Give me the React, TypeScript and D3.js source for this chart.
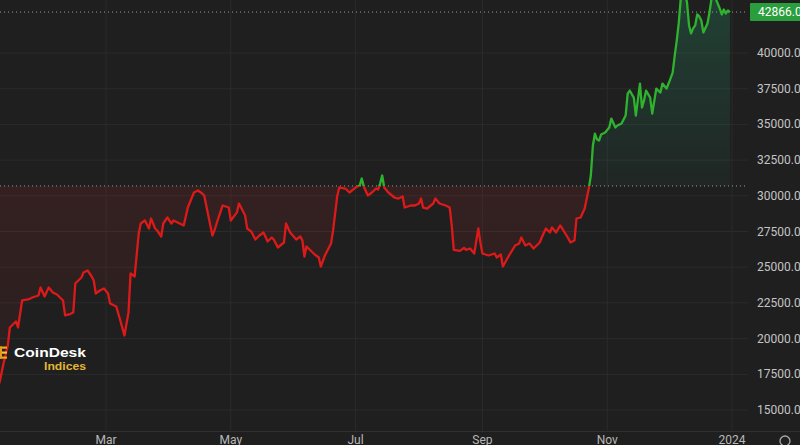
import React from "react";
import * as d3 from "d3";

const dates = [
  "2023-01-06","2023-01-08","2023-01-10","2023-01-12","2023-01-13","2023-01-16","2023-01-17","2023-01-19","2023-01-22","2023-01-24","2023-01-27","2023-01-28","2023-01-30",
  "2023-02-01","2023-02-03","2023-02-05","2023-02-08","2023-02-09","2023-02-11","2023-02-13","2023-02-14","2023-02-17","2023-02-18","2023-02-20","2023-02-22","2023-02-23","2023-02-24","2023-02-26","2023-02-28",
  "2023-03-02","2023-03-03","2023-03-06","2023-03-08","2023-03-10","2023-03-12","2023-03-13","2023-03-15","2023-03-17","2023-03-18","2023-03-20","2023-03-22","2023-03-23","2023-03-25","2023-03-26","2023-03-28","2023-03-29","2023-03-31",
  "2023-04-02","2023-04-03","2023-04-06","2023-04-08","2023-04-10","2023-04-13","2023-04-15","2023-04-17","2023-04-18","2023-04-19","2023-04-21","2023-04-22","2023-04-23","2023-04-25","2023-04-27","2023-04-30",
  "2023-05-01","2023-05-04","2023-05-05","2023-05-08","2023-05-09","2023-05-11","2023-05-13","2023-05-15","2023-05-17","2023-05-19","2023-05-21","2023-05-22","2023-05-24","2023-05-27","2023-05-28","2023-05-30",
  "2023-06-02","2023-06-04","2023-06-05","2023-06-06","2023-06-07","2023-06-09","2023-06-11","2023-06-13","2023-06-14","2023-06-16","2023-06-18","2023-06-19","2023-06-20","2023-06-22","2023-06-23","2023-06-26","2023-06-28",
  "2023-07-01","2023-07-03","2023-07-04","2023-07-05","2023-07-07","2023-07-09","2023-07-11","2023-07-12","2023-07-13","2023-07-14","2023-07-15","2023-07-17","2023-07-20","2023-07-22","2023-07-24","2023-07-25","2023-07-28","2023-07-30",
  "2023-08-01","2023-08-02","2023-08-03","2023-08-05","2023-08-08","2023-08-09","2023-08-11","2023-08-14","2023-08-16","2023-08-17","2023-08-18","2023-08-21","2023-08-23","2023-08-24","2023-08-26","2023-08-28","2023-08-30","2023-08-31",
  "2023-09-01","2023-09-04","2023-09-07","2023-09-08","2023-09-10","2023-09-11","2023-09-14","2023-09-17","2023-09-19","2023-09-20","2023-09-22","2023-09-24","2023-09-26","2023-09-29","2023-09-30",
  "2023-10-02","2023-10-04","2023-10-05","2023-10-07","2023-10-09","2023-10-10","2023-10-13","2023-10-14","2023-10-16","2023-10-17","2023-10-19","2023-10-21","2023-10-22","2023-10-23","2023-10-24","2023-10-25","2023-10-26","2023-10-27","2023-10-28","2023-10-29","2023-10-31",
  "2023-11-02","2023-11-03","2023-11-05","2023-11-06","2023-11-08","2023-11-10","2023-11-11","2023-11-12","2023-11-14","2023-11-15","2023-11-17","2023-11-18","2023-11-19","2023-11-20","2023-11-22","2023-11-23","2023-11-25","2023-11-27","2023-11-28","2023-11-30",
  "2023-12-01","2023-12-03","2023-12-04","2023-12-05","2023-12-06","2023-12-07","2023-12-08","2023-12-09","2023-12-10","2023-12-11","2023-12-12","2023-12-13","2023-12-14","2023-12-15","2023-12-16","2023-12-17","2023-12-18","2023-12-20","2023-12-21","2023-12-22","2023-12-23","2023-12-24","2023-12-25","2023-12-26","2023-12-27","2023-12-28","2023-12-29","2023-12-30","2023-12-31"
];

const prices = [
  16400,16950,18330,19520,20780,21200,20780,22670,22740,22880,23020,23580,22950,
  23580,23230,23090,22670,21620,21690,21830,23860,24280,24630,24770,24350,24070,23160,23370,23510,
  23160,22460,22250,21270,20220,21830,24560,24350,27360,28060,28270,27710,28410,27710,27570,27150,28060,28480,
  28060,28270,28060,27920,29180,30230,30370,30160,30020,29320,27920,27220,27570,28480,29320,29180,
  28270,28840,29460,28620,27710,27500,26940,27220,27430,26800,27080,26940,26380,26730,28060,27430,
  26940,27150,26870,25750,26450,26170,25890,25680,25050,25820,26380,26660,27570,29950,30580,30510,30230,
  30580,30720,31210,30650,30020,30230,30510,30440,30860,31420,30580,30230,29880,29810,29950,29180,29320,29320,
  29460,29810,29180,29110,29460,29810,29460,29320,29180,27920,26210,26140,26350,26210,26310,25960,27710,26730,
  25960,25820,25960,25680,25890,25050,25820,26520,26660,27080,26520,26660,26310,26730,27080,
  27710,27430,27780,27430,27920,27710,27010,26730,26870,28410,28480,29110,29810,30510,31420,33520,34360,33950,33870,34290,34430,
  34780,35410,34780,34920,35060,35620,37160,37370,36880,35620,37860,36180,36680,37370,36880,35760,37510,37230,37860,37510,
  37860,38630,39820,40880,42140,43890,44380,44240,43540,41930,41370,41720,41930,42700,42560,42280,41440,42070,42840,43820,44030,43820,43470,43120,42700,43050,42770,42980,42866
];

const yTicks = [15000, 17500, 20000, 22500, 25000, 27500, 30000, 32500, 35000, 37500, 40000];
const xTickDates = ["2023-03-01", "2023-05-01", "2023-07-01", "2023-09-01", "2023-11-01", "2024-01-01"];
const xTickLabels = ["Mar", "May", "Jul", "Sep", "Nov", "2024"];
const baseValue = 30690;
const lastPrice = 42866.0;

type Pt = { date: Date; value: number };

export default function App() {
  const W = 800;
  const H = 445;
  const plotRight = 748;
  const plotBottom = 431;
  const parse = d3.timeParse("%Y-%m-%d");
  const data: Pt[] = dates.map((d, i) => ({ date: parse(d) as Date, value: prices[i] }));

  const x = d3
    .scaleTime()
    .domain([parse("2023-03-01") as Date, parse("2024-01-01") as Date])
    .range([106, 732]);
  const y = d3.scaleLinear().domain([15000, 40000]).range([410, 53]);
  const by = y(baseValue);
  const ly = y(lastPrice);

  const line = d3
    .line<Pt>()
    .x((d) => x(d.date))
    .y((d) => y(d.value));
  const area = d3
    .area<Pt>()
    .x((d) => x(d.date))
    .y0(by)
    .y1((d) => y(d.value));

  const linePath = line(data) || "";
  const areaPath = area(data) || "";
  const font = "Roboto, 'Open Sans', 'DejaVu Sans', sans-serif";

  return (
    <svg
      width={W}
      height={H}
      style={{ position: "absolute", left: 0, top: 0, display: "block" }}
    >
      <defs>
        <clipPath id="plotClip">
          <rect x={0} y={0} width={plotRight} height={plotBottom} />
        </clipPath>
        <clipPath id="aboveClip">
          <rect x={0} y={0} width={plotRight} height={by} />
        </clipPath>
        <clipPath id="belowClip">
          <rect x={0} y={by} width={plotRight} height={plotBottom - by} />
        </clipPath>
        <linearGradient id="greenGrad" gradientUnits="userSpaceOnUse" x1={0} y1={0} x2={0} y2={by}>
          <stop offset="0" stopColor="rgb(40,170,120)" stopOpacity={0.24} />
          <stop offset="1" stopColor="rgb(40,170,120)" stopOpacity={0.05} />
        </linearGradient>
        <linearGradient id="redGrad" gradientUnits="userSpaceOnUse" x1={0} y1={by} x2={0} y2={plotBottom}>
          <stop offset="0" stopColor="rgb(200,40,40)" stopOpacity={0.13} />
          <stop offset="1" stopColor="rgb(200,40,40)" stopOpacity={0.04} />
        </linearGradient>
      </defs>

      <rect x={0} y={0} width={W} height={H} fill="#1f1f1f" />

      {/* grid */}
      <g>
        {yTicks.map((t) => (
          <line key={"gy" + t} x1={0} x2={plotRight} y1={y(t)} y2={y(t)} stroke="#2b2b2b" strokeWidth={1} />
        ))}
        {xTickDates.map((t) => {
          const xx = x(parse(t) as Date);
          return <line key={"gx" + t} x1={xx} x2={xx} y1={0} y2={plotBottom} stroke="#2b2b2b" strokeWidth={1} />;
        })}
        <line x1={0} x2={W} y1={plotBottom + 0.5} y2={plotBottom + 0.5} stroke="#303030" strokeWidth={1} />
      </g>

      {/* areas */}
      <g clipPath="url(#plotClip)">
        <path d={areaPath} fill="url(#greenGrad)" clipPath="url(#aboveClip)" />
        <path d={areaPath} fill="url(#redGrad)" clipPath="url(#belowClip)" />
      </g>

      {/* dotted lines */}
      <line x1={0} x2={plotRight} y1={by} y2={by} stroke="#9a9a9a" strokeWidth={1} strokeDasharray="1 3" />
      <line x1={0} x2={plotRight} y1={ly} y2={ly} stroke="#9a9a9a" strokeWidth={1} strokeDasharray="1 3" />

      {/* lines */}
      <g clipPath="url(#plotClip)">
        <path d={linePath} fill="none" stroke="#2fb32f" strokeWidth={2.3} strokeLinejoin="round" clipPath="url(#aboveClip)" />
        <path d={linePath} fill="none" stroke="#dc1a1a" strokeWidth={2.3} strokeLinejoin="round" clipPath="url(#belowClip)" />
      </g>

      {/* y axis labels */}
      <g fontFamily={font} fontSize={12} fill="#c4c4c4">
        {yTicks.map((t) => (
          <text key={"ly" + t} x={757} y={y(t)} dominantBaseline="central">
            {t.toFixed(1)}
          </text>
        ))}
      </g>

      {/* last price label */}
      <rect x={750} y={ly - 9} width={60} height={18} rx={1} fill="#2a9e3c" />
      <text x={758} y={ly} dominantBaseline="central" fontFamily={font} fontSize={12} fill="#ffffff">
        {lastPrice.toFixed(1)}
      </text>

      {/* x axis labels */}
      <g fontFamily={font} fontSize={12} fill="#b8b8b8" textAnchor="middle">
        {xTickDates.map((t, i) => (
          <text key={"lx" + t} x={x(parse(t) as Date)} y={443.5}>
            {xTickLabels[i]}
          </text>
        ))}
      </g>

      {/* bottom-right icon */}
      <circle cx={785} cy={441} r={5} fill="none" stroke="#a8a8a8" strokeWidth={1.3} />

      {/* CoinDesk Indices logo */}
      <g>
        <rect x={0} y={346.5} width={7} height={2.2} fill="#f2a81d" />
        <rect x={0} y={351.5} width={7} height={2.2} fill="#f7c531" />
        <rect x={0} y={356.5} width={7} height={2.2} fill="#f2a81d" />
        <rect x={0} y={346.5} width={2} height={12.2} fill="#e89a1a" />
        <text
          x={14}
          y={357}
          fontFamily="'Liberation Sans', Arial, sans-serif"
          fontWeight="bold"
          fontSize={13.5}
          fill="#ffffff"
          textLength={72}
          lengthAdjust="spacingAndGlyphs"
        >
          CoinDesk
        </text>
        <text
          x={44}
          y={370}
          fontFamily="'Liberation Sans', Arial, sans-serif"
          fontWeight="bold"
          fontSize={11.5}
          fill="#e2b634"
          textLength={42}
          lengthAdjust="spacingAndGlyphs"
        >
          Indices
        </text>
      </g>
    </svg>
  );
}
